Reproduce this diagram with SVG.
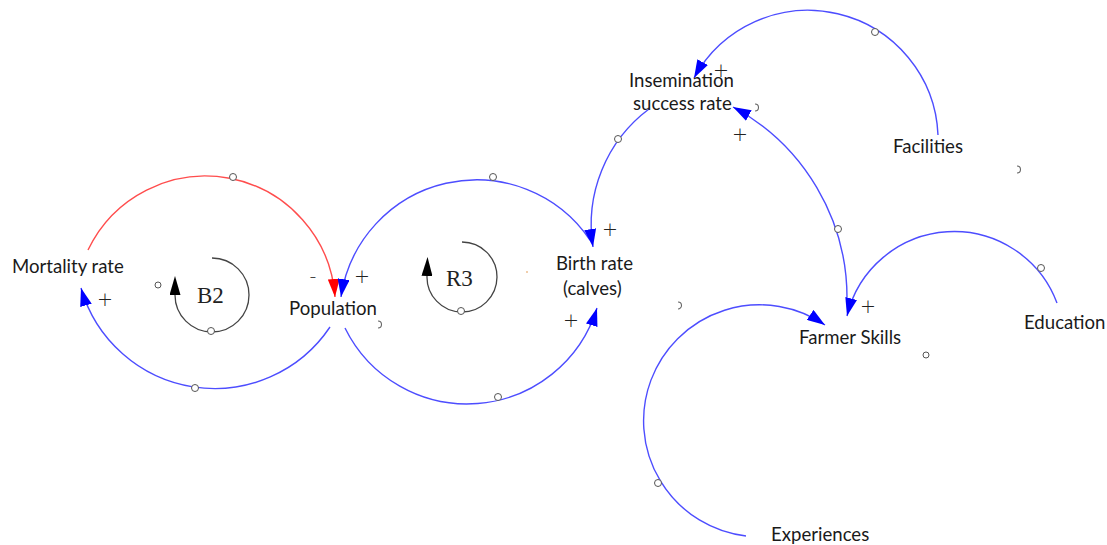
<svg xmlns="http://www.w3.org/2000/svg" width="1107" height="545" viewBox="0 0 1107 545">
<style>
  .lbl { font-family: Lato, "Open Sans", sans-serif; font-size: 18.6px; fill: #1a1a1a; }
  .sign { font-family: "DejaVu Sans", "Liberation Sans", sans-serif; font-size: 19px; font-weight: 300; fill: #222; text-anchor: middle; }
  .loopl { font-family: "Liberation Serif", "Times New Roman", serif; font-size: 23px; fill: #222; }
  .blue { fill: none; stroke: #4d4dff; stroke-width: 1.4; }
  .red { fill: none; stroke: #ff4d4d; stroke-width: 1.4; }
  .loop { fill: none; stroke: #444; stroke-width: 1.3; }
  .dot { fill: #fff; stroke: #555; stroke-width: 1; }
  .hook { fill: none; stroke: #666; stroke-width: 1.1; }
</style>
<defs>
  <marker id="ab" markerUnits="userSpaceOnUse" viewBox="0 0 18 12" markerWidth="18" markerHeight="12" refX="18" refY="6" orient="auto">
    <path d="M0,0 L18,6 L0,12 z" fill="#0000ff"/>
  </marker>
  <marker id="ar" markerUnits="userSpaceOnUse" viewBox="0 0 18 12" markerWidth="18" markerHeight="12" refX="18" refY="6" orient="auto">
    <path d="M0,0 L18,6 L0,12 z" fill="#ff0000"/>
  </marker>
  <marker id="ak" markerUnits="userSpaceOnUse" viewBox="0 0 19 11" markerWidth="19" markerHeight="11" refX="0" refY="5.5" orient="auto">
    <path d="M0,0 L19,5.5 L0,11 z" fill="#000"/>
  </marker>
</defs>
<rect width="1107" height="545" fill="#fff"/>

<g id="connectors">
  <path class="red" d="M 88 250 A 130 130 0 0 1 335 297" marker-end="url(#ar)"/>
  <path class="blue" d="M 330 327 A 139 139 0 0 1 81 288" marker-end="url(#ab)"/>
  <path class="blue" d="M 590 240 A 137 137 0 0 0 341 297" marker-end="url(#ab)"/>
  <path class="blue" d="M 345 328 A 136 136 0 0 0 597 308" marker-end="url(#ab)"/>
  <path class="blue" d="M 649 109 A 144 144 0 0 0 593 247" marker-end="url(#ab)"/>
  <path class="blue" d="M 847 300 A 217 217 0 0 0 733 107" marker-end="url(#ab)"/>
  <path class="blue" d="M 938 135 A 130 130 0 0 0 694 78" marker-end="url(#ab)"/>
  <path class="blue" d="M 1057 303 A 110 110 0 0 0 847 316" marker-end="url(#ab)"/>
  <path class="blue" d="M 746 536 A 116 116 0 1 1 825 325" marker-end="url(#ab)"/>
  <circle class="dot" cx="233" cy="177" r="3.5"/>
  <circle class="dot" cx="195" cy="388" r="3.5"/>
  <circle class="dot" cx="493" cy="177" r="3.5"/>
  <circle class="dot" cx="498" cy="397" r="3.5"/>
  <circle class="dot" cx="618" cy="139" r="3.5"/>
  <circle class="dot" cx="838" cy="229" r="3.5"/>
  <circle class="dot" cx="875" cy="32" r="3.5"/>
  <circle class="dot" cx="1041" cy="268" r="3.5"/>
  <circle class="dot" cx="658" cy="483" r="3.5"/>
  <g class="sign">
    <text x="105" y="306">+</text>
    <text x="313" y="283">-</text>
    <text x="362" y="283">+</text>
    <text x="610" y="236">+</text>
    <text x="571" y="327">+</text>
    <text x="721" y="77">+</text>
    <text x="740" y="141">+</text>
    <text x="868" y="313">+</text>
  </g>
</g>

<g id="loop-B2">
  <path class="loop" d="M 212 258 A 37 37 0 1 1 175 295" marker-end="url(#ak)"/>
  <circle class="dot" cx="211" cy="331" r="3.5"/>
  <text class="loopl" x="197" y="303">B2</text>
</g>
<g id="loop-R3">
  <path class="loop" d="M 462 242 A 35 35 0 1 1 427 276" marker-end="url(#ak)"/>
  <circle class="dot" cx="461" cy="311" r="3.5"/>
  <text class="loopl" x="446" y="286">R3</text>
</g>

<g id="node-mortality"><text class="lbl" x="12" y="273">Mortality rate</text></g>
<g id="node-population"><text class="lbl" x="289" y="315">Population</text></g>
<g id="node-birth"><text class="lbl" x="556" y="270">Birth rate</text><text class="lbl" x="563" y="295">(calves)</text></g>
<g id="node-insemination"><text class="lbl" x="629" y="87">Insemination</text><text class="lbl" x="633" y="110">success rate</text></g>
<g id="node-facilities"><text class="lbl" x="893" y="153">Facilities</text></g>
<g id="node-farmer"><text class="lbl" x="799" y="344">Farmer Skills</text></g>
<g id="node-education"><text class="lbl" x="1024" y="329">Education</text></g>
<g id="node-experiences"><text class="lbl" x="771" y="541">Experiences</text></g>

<g id="marks">
  <circle class="dot" cx="158" cy="285" r="3"/>
  <circle class="dot" cx="926" cy="355" r="3"/>
  <path class="hook" d="M 378 321 a 3.5 3.5 0 1 1 0 7"/>
  <path class="hook" d="M 678 302 a 3.5 3.5 0 1 1 0 7"/>
  <path class="hook" d="M 755 104 a 3.5 3.5 0 1 1 0 7"/>
  <path class="hook" d="M 1017 166 a 3.5 3.5 0 1 1 0 7"/>
  <circle cx="527" cy="272" r="0.8" fill="#e09040"/>
</g>
</svg>
